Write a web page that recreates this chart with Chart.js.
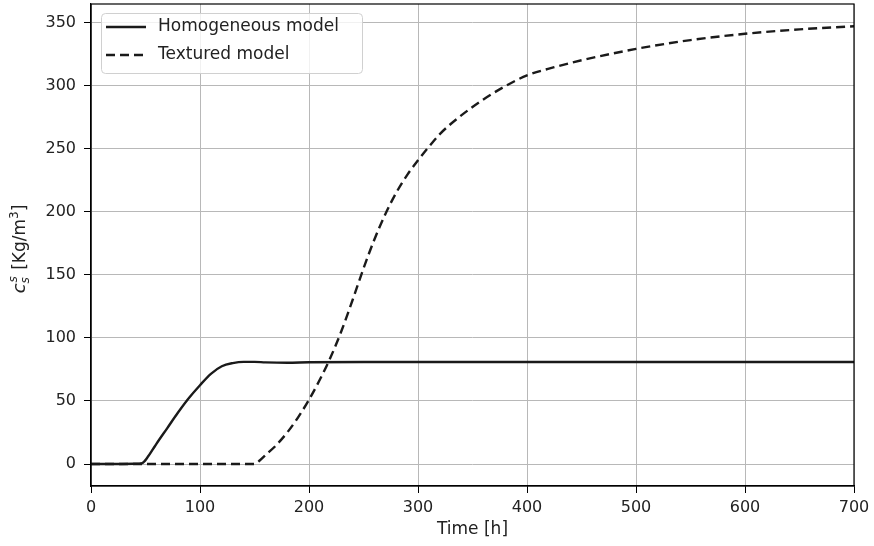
<!DOCTYPE html>
<html>
<head>
<meta charset="utf-8">
<script src="https://cdn.jsdelivr.net/npm/chart.js@4/dist/chart.umd.min.js"></script>
<style>
    html, body { margin: 0; padding: 0; background: #fff; }
    #wrap { width: 874px; height: 546px; position: relative; }
</style>
</head>
<body>
<div id="wrap"><canvas id="chart"></canvas></div>
<script>
// Werte
const homTime = [0, 20, 40, 47, 52, 57, 60, 70, 80, 90, 100, 110, 120, 130, 140, 150, 160, 180, 200, 250, 300, 400, 500, 600, 700];
const homConc = [0, 0, 0.2, 0.8, 5.5, 12, 16, 28.5, 41, 52.5, 62.5, 71.5, 77.5, 80, 81, 81, 80.6, 80.3, 80.7, 80.9, 80.9, 80.9, 80.9, 80.9, 80.9];

const texTime = [0, 50, 100, 150, 155, 160, 170, 180, 190, 200, 210, 220, 230, 240, 250, 260, 270, 280, 290, 300, 310, 320, 330, 340, 350, 360, 380, 400, 425, 450, 500, 550, 600, 650, 700];
const texConc = [0, 0, 0, 0, 3, 7, 15, 25, 37, 51, 67, 85, 106, 130, 155, 178, 198, 215, 229, 240.7, 251.5, 261.5, 269.5, 276.5, 283, 289, 299.5, 308, 314.5, 320, 329, 336, 341, 344.5, 347];

const seriesLabels = ['Homogeneous model', 'Textured model'];
const xTicks = [0, 100, 200, 300, 400, 500, 600, 700];
const yTicks = [0, 50, 100, 150, 200, 250, 300, 350];

const FONT = "'DejaVu Sans', sans-serif";
const TEXT = '#222';
const LINE = '#1a1a1a';

const toPoints = (xs, ys) => xs.map((x, i) => ({ x: x, y: ys[i] }));

// Rahmen oben/rechts wie bei matplotlib
const framePlugin = {
    id: 'frame',
    afterDraw(chart) {
        const { ctx, chartArea: a } = chart;
        ctx.save();
        ctx.strokeStyle = '#000';
        ctx.lineWidth = 1.2;
        ctx.strokeRect(a.left, a.top, a.right - a.left, a.bottom - a.top);
        ctx.restore();
    }
};

// Legende innerhalb der Zeichenflaeche (oben links)
const legendPlugin = {
    id: 'innerLegend',
    afterDraw(chart) {
        const { ctx, chartArea: a } = chart;
        const x = a.left + 10, y = a.top + 9, w = 261, h = 60;
        ctx.save();
        ctx.fillStyle = 'rgba(255,255,255,0.8)';
        ctx.strokeStyle = '#d0d0d0';
        ctx.lineWidth = 1;
        ctx.beginPath();
        ctx.roundRect(x + 0.5, y + 0.5, w, h, 4);
        ctx.fill();
        ctx.stroke();

        ctx.font = `17px ${FONT}`;
        ctx.textBaseline = 'middle';
        chart.data.datasets.forEach((ds, i) => {
            const ly = y + 14 + i * 28;
            ctx.strokeStyle = ds.borderColor;
            ctx.lineWidth = ds.borderWidth;
            ctx.setLineDash(ds.borderDash || []);
            ctx.beginPath();
            ctx.moveTo(x + 5, ly);
            ctx.lineTo(x + 45, ly);
            ctx.stroke();
            ctx.setLineDash([]);
            ctx.fillStyle = TEXT;
            ctx.fillText(ds.label, x + 57, ly);
        });
        ctx.restore();
    }
};

// Y-Achsentitel mit Hoch-/Tiefstellung: c_s^s [Kg/m^3]
const yTitlePlugin = {
    id: 'yTitle',
    afterDraw(chart) {
        const { ctx, chartArea: a } = chart;
        const big = `17px ${FONT}`, bigIt = `italic 18px ${FONT}`;
        const small = `12px ${FONT}`, smallIt = `italic 12px ${FONT}`;

        ctx.save();
        ctx.font = bigIt; const wC = ctx.measureText('c').width;
        ctx.font = smallIt; const wS = ctx.measureText('s').width;
        ctx.font = big; const wA = ctx.measureText(' [Kg/m').width;
        ctx.font = small; const w3 = ctx.measureText('3').width;
        ctx.font = big; const wB = ctx.measureText(']').width;
        const total = wC + wS + 2 + wA + w3 + wB;

        ctx.translate(25, (a.top + a.bottom) / 2 + 4);
        ctx.rotate(-Math.PI / 2);
        ctx.fillStyle = TEXT;
        ctx.textBaseline = 'alphabetic';
        let px = -total / 2;
        ctx.font = bigIt; ctx.fillText('c', px, 0); px += wC + 1;
        ctx.font = smallIt; ctx.fillText('s', px, -8); ctx.fillText('s', px - 1, 4); px += wS + 1;
        ctx.font = big; ctx.fillText(' [Kg/m', px, 0); px += wA;
        ctx.font = small; ctx.fillText('3', px, -7); px += w3;
        ctx.font = big; ctx.fillText(']', px, 0);
        ctx.restore();
    }
};

const ctx = document.getElementById('chart').getContext('2d');

new Chart(ctx, {
    type: 'line',
    data: {
        datasets: [
            {
                label: seriesLabels[0],
                data: toPoints(homTime, homConc),
                borderColor: LINE,
                borderWidth: 2.4,
                pointRadius: 0,
                cubicInterpolationMode: 'monotone',
                fill: false
            },
            {
                label: seriesLabels[1],
                data: toPoints(texTime, texConc),
                borderColor: LINE,
                borderWidth: 2.4,
                borderDash: [9, 5],
                pointRadius: 0,
                cubicInterpolationMode: 'monotone',
                fill: false
            }
        ]
    },
    options: {
        responsive: true,
        maintainAspectRatio: false,
        animation: false,
        layout: { padding: { top: 4, right: 20, left: 0, bottom: 0 } },
        plugins: {
            legend: { display: false },
            tooltip: { enabled: false }
        },
        scales: {
            x: {
                type: 'linear',
                min: 0,
                max: 700,
                afterBuildTicks: (s) => { s.ticks = xTicks.map(v => ({ value: v })); },
                afterFit: (s) => { s.height = 60; s.paddingLeft = 0; s.paddingRight = 0; },
                ticks: {
                    color: TEXT,
                    font: { family: FONT, size: 16 },
                    padding: 5,
                    maxRotation: 0
                },
                grid: {
                    color: '#b8b8b8',
                    lineWidth: 1,
                    tickColor: '#000',
                    tickLength: 7
                },
                border: { color: '#000', width: 1.2 },
                title: {
                    display: true,
                    text: 'Time [h]',
                    color: TEXT,
                    font: { family: FONT, size: 17 },
                    padding: { top: 0, bottom: 6 }
                }
            },
            y: {
                type: 'linear',
                min: -17.4,
                max: 364.6,
                afterBuildTicks: (s) => { s.ticks = yTicks.map(v => ({ value: v })); },
                afterFit: (s) => { s.width = 91; s.paddingTop = 0; s.paddingBottom = 0; },
                ticks: {
                    color: TEXT,
                    font: { family: FONT, size: 16 },
                    padding: 8
                },
                grid: {
                    color: '#b8b8b8',
                    lineWidth: 1,
                    tickColor: '#000',
                    tickLength: 7
                },
                border: { color: '#000', width: 1.2 }
            }
        }
    },
    plugins: [framePlugin, legendPlugin, yTitlePlugin]
});
</script>
</body>
</html>
